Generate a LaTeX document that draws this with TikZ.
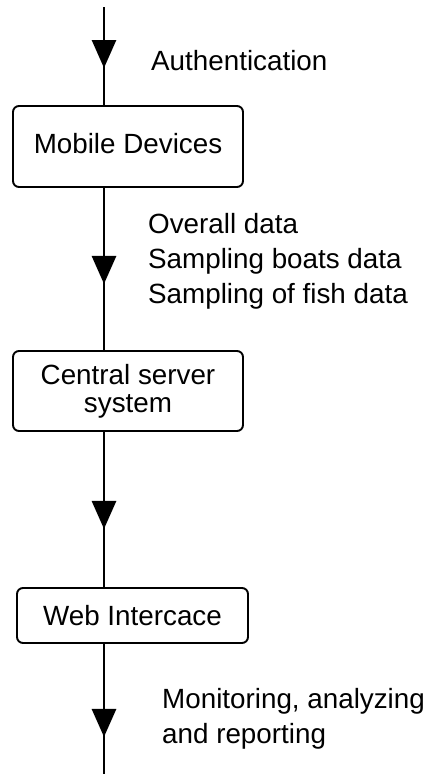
\documentclass[tikz,border=0pt]{standalone}
\usepackage{fontspec}
\setmainfont{Liberation Sans}
\usetikzlibrary{arrows.meta,decorations.markings}
\tikzset{
  box/.style={draw, line width=1.9pt, rounded corners=6pt, inner sep=0pt,
    font=\fontsize{27.8}{28}\selectfont, align=center},
  lbl/.style={anchor=base west, inner sep=0pt, font=\fontsize{27.8}{35}\selectfont},
  flow/.style={line width=2.8pt, postaction={decorate},
    decoration={markings, mark=at position #1 with {\arrow{Triangle[width=24pt,length=28pt]}}}}
}
\begin{document}
\begin{tikzpicture}[x=1pt,y=-1pt]
\useasboundingbox (0,0) rectangle (427,774);
\coordinate (top) at (104,7);
\coordinate (bottom) at (104,774);
\node[box, minimum width=230pt, minimum height=81pt, text depth=6pt] (b1) at (128,146.5) {Mobile Devices};
\node[box, minimum width=230pt, minimum height=80pt] (b2) at (128,391) {Central server\\system};
\node[box, minimum width=231pt, minimum height=55pt] (b3) at (132.5,615.5) {Web Intercace};
\draw[flow=61pt] (top) -- (top |- b1.north);
\draw[flow=96pt] (top |- b1.south) -- (top |- b2.north);
\draw[flow=97pt] (top |- b2.south) -- (top |- b3.north);
\draw[flow=93pt] (top |- b3.south) -- (bottom);
\node[lbl] (l1) at (151,70) {Authentication};
\node[lbl] (l2a) at (148,233) {Overall data};
\node[lbl] (l2b) at (148,268) {Sampling boats data};
\node[lbl] (l2c) at (148,303) {Sampling of fish data};
\node[lbl] (l4a) at (162,708) {Monitoring, analyzing};
\node[lbl] (l4b) at (162,743) {and reporting};
\end{tikzpicture}
\end{document}
